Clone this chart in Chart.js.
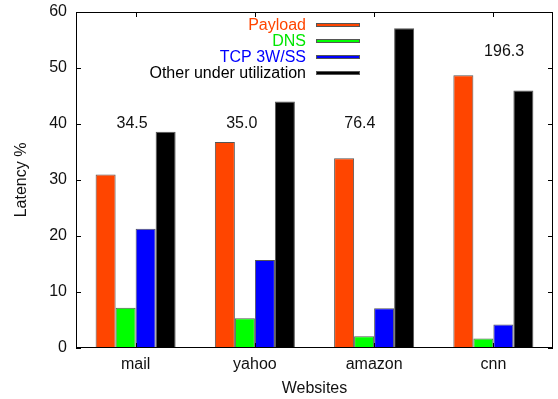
<!DOCTYPE html>
<html><head><meta charset="utf-8">
<script src="https://cdn.jsdelivr.net/npm/chart.js@4"></script>
<style>html,body{margin:0;padding:0;background:#fff}#wrap{width:558px;height:399px}</style>
</head><body><div id="wrap"><canvas id="c" width="558" height="399"></canvas></div>
<script>
const categories = ['mail', 'yahoo', 'amazon', 'cnn'];
const seriesNames = ['Payload', 'DNS', 'TCP 3W/SS', 'Other under utilization'];
const payload = [31.0, 36.8, 33.9, 48.7];
const dns = [7.2, 5.3, 2.1, 1.7];
const tcp = [21.3, 15.7, 7.1, 4.2];
const other = [38.6, 44.0, 57.1, 46.0];
const yTickValues = [0, 10, 20, 30, 40, 50, 60];
const totalLabels = ['34.5', '35.0', '76.4', '196.3'];
// anchor of each total label in data units: [category offset, y value]
const totalAnchors = [[-0.03, 40], [-0.11, 40], [-0.12, 40], [0.09, 52.9]];

const fills = ['#ff4500', '#00ff00', '#0000ff', '#000000'];
const textCols = ['#ff4500', '#00e600', '#0000ff', '#000000'];
const FONT = "'Liberation Sans', Arial, sans-serif";

const framePlugin = {
  id: 'frame',
  afterDatasetsDraw(chart) {
    const ctx = chart.ctx, a = chart.chartArea;
    const xs = chart.scales.x, ys = chart.scales.y;
    ctx.save();
    ctx.strokeStyle = '#000';
    ctx.lineWidth = 1;
    ctx.strokeRect(Math.round(a.left) + 0.5, Math.round(a.top) + 0.5,
      Math.round(a.right - a.left) - 1, Math.round(a.bottom - a.top) - 1);
    const tl = 5;
    ctx.beginPath();
    ys.ticks.forEach(t => {
      const y = Math.round(ys.getPixelForValue(t.value)) + 0.5;
      ctx.moveTo(a.left, y); ctx.lineTo(a.left + tl, y);
      ctx.moveTo(a.right, y); ctx.lineTo(a.right - tl, y);
    });
    categories.forEach((c, i) => {
      const x = Math.round(xs.getPixelForValue(i)) + 0.5;
      ctx.moveTo(x, a.bottom); ctx.lineTo(x, a.bottom - tl);
      ctx.moveTo(x, a.top); ctx.lineTo(x, a.top + tl);
    });
    ctx.stroke();

    // total labels
    ctx.fillStyle = '#111';
    ctx.font = '16px ' + FONT;
    ctx.textAlign = 'center';
    ctx.textBaseline = 'middle';
    totalLabels.forEach((t, i) => {
      const x = xs.getPixelForValue(i) + totalAnchors[i][0] * (xs.getPixelForValue(1) - xs.getPixelForValue(0));
      const y = ys.getPixelForValue(totalAnchors[i][1]);
      ctx.fillText(t, x, y);
    });

    // legend
    const lx = a.left + 230, ly = a.top + 12.5;
    ctx.textAlign = 'right';
    chart.data.datasets.forEach((ds, i) => {
      const y = ly + i * 16;
      ctx.fillStyle = textCols[i];
      ctx.fillText(ds.label, lx, y + 1);
      ctx.fillStyle = ds.backgroundColor;
      ctx.fillRect(lx + 10.5, Math.round(y) - 1.5, 43, 3);
      ctx.strokeStyle = '#555';
      ctx.strokeRect(lx + 10.5, Math.round(y) - 1.5, 43, 3);
    });
    ctx.restore();
  }
};

const seriesValues = [payload, dns, tcp, other];
new Chart(document.getElementById('c'), {
  type: 'bar',
  data: {
    labels: categories,
    datasets: seriesValues.map((v, i) => ({
      label: seriesNames[i],
      data: v,
      backgroundColor: fills[i],
      borderColor: '#555',
      borderWidth: 1,
      borderSkipped: 'bottom',
      categoryPercentage: 0.671,
      barPercentage: 1.0
    }))
  },
  options: {
    responsive: false,
    animation: false,
    devicePixelRatio: 1,
    layout: { padding: { left: 0, right: 5, top: 12, bottom: 0 } },
    plugins: { legend: { display: false }, tooltip: { enabled: false } },
    scales: {
      x: {
        grid: { display: false, drawTicks: false },
        border: { display: false },
        ticks: { color: '#111', font: { family: FONT, size: 16 }, padding: 7 },
        title: { display: true, text: 'Websites', color: '#111', font: { family: FONT, size: 16 }, padding: { top: 0, bottom: 1 } },
        afterFit(s) { s.height = 51; s.paddingLeft = 0; s.paddingRight = 0; }
      },
      y: {
        min: 0, max: 60,
        afterBuildTicks(s) { s.ticks = yTickValues.map(v => ({ value: v })); },
        grid: { display: false, drawTicks: false },
        border: { display: false },
        ticks: { color: '#111', font: { family: FONT, size: 16 }, padding: 9 },
        title: { display: true, text: 'Latency %', color: '#111', font: { family: FONT, size: 16 }, padding: { top: 12, bottom: 0 } },
        afterFit(s) { s.width = 76; s.paddingTop = 0; s.paddingBottom = 0; }
      }
    }
  },
  plugins: [framePlugin]
});
</script></body></html>
